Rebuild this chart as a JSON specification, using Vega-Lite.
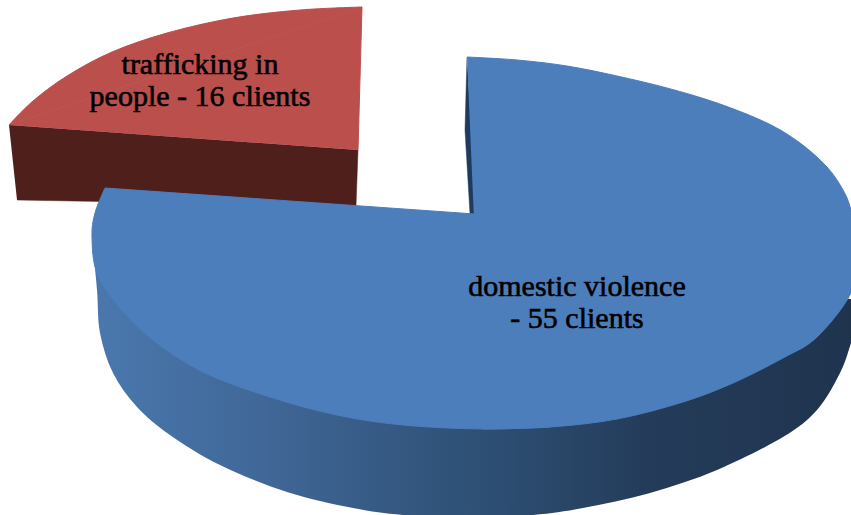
{"$schema":"https://vega.github.io/schema/vega-lite/v6.json","width":851,"height":515,"padding":0,"autosize":{"type":"fit","contains":"padding"},"background":"white","view":{"stroke":null},
"datasets":{
"outline":[
{"part":"redWall","i":1,"x":9,"y":125},{"part":"redWall","i":2,"x":358,"y":150},{"part":"redWall","i":3,"x":356,"y":206},{"part":"redWall","i":4,"x":17,"y":200},
{"part":"redArc","i":1,"x":9,"y":125},{"part":"redArc","i":2,"x":33,"y":101},{"part":"redArc","i":3,"x":67,"y":76},{"part":"redArc","i":4,"x":112,"y":52},{"part":"redArc","i":5,"x":167,"y":33},{"part":"redArc","i":6,"x":233,"y":18},{"part":"redArc","i":7,"x":300,"y":10},{"part":"redArc","i":8,"x":362,"y":7},
{"part":"redFace","i":1,"x":9,"y":125},{"part":"redFace","i":2,"x":362,"y":7},{"part":"redFace","i":3,"x":358,"y":150},
{"part":"blueWall","i":1,"x":92,"y":237},{"part":"blueWall","i":2,"x":97,"y":290},{"part":"blueWall","i":3,"x":100,"y":333},{"part":"blueWall","i":4,"x":113,"y":373},{"part":"blueWall","i":5,"x":137,"y":407},{"part":"blueWall","i":6,"x":170,"y":435},{"part":"blueWall","i":7,"x":220,"y":465},{"part":"blueWall","i":8,"x":287,"y":492},{"part":"blueWall","i":9,"x":353,"y":508},{"part":"blueWall","i":10,"x":403,"y":515},{"part":"blueWall","i":11,"x":468,"y":519},{"part":"blueWall","i":12,"x":533,"y":515},{"part":"blueWall","i":13,"x":583,"y":508},{"part":"blueWall","i":14,"x":650,"y":493},{"part":"blueWall","i":15,"x":717,"y":470},{"part":"blueWall","i":16,"x":783,"y":437},{"part":"blueWall","i":17,"x":817,"y":410},{"part":"blueWall","i":18,"x":840,"y":373},{"part":"blueWall","i":19,"x":851,"y":343},{"part":"blueWall","i":20,"x":864,"y":300},
{"part":"sliver","i":1,"x":467,"y":57},{"part":"sliver","i":2,"x":465,"y":130},{"part":"sliver","i":3,"x":470,"y":214},{"part":"sliver","i":4,"x":476,"y":214},
{"part":"blueRight","i":1,"x":467,"y":57},{"part":"blueRight","i":2,"x":517,"y":60},{"part":"blueRight","i":3,"x":567,"y":66},{"part":"blueRight","i":4,"x":617,"y":76},{"part":"blueRight","i":5,"x":667,"y":88},{"part":"blueRight","i":6,"x":717,"y":103},{"part":"blueRight","i":7,"x":767,"y":123},{"part":"blueRight","i":8,"x":800,"y":143},{"part":"blueRight","i":9,"x":827,"y":167},{"part":"blueRight","i":10,"x":843,"y":190},{"part":"blueRight","i":11,"x":851,"y":210},{"part":"blueRight","i":12,"x":860,"y":250},{"part":"blueRight","i":13,"x":851,"y":293},{"part":"blueRight","i":14,"x":817,"y":337},{"part":"blueRight","i":15,"x":783,"y":358},{"part":"blueRight","i":16,"x":733,"y":383},{"part":"blueRight","i":17,"x":683,"y":402},{"part":"blueRight","i":18,"x":617,"y":419},{"part":"blueRight","i":19,"x":550,"y":427},{"part":"blueRight","i":20,"x":483,"y":429},
{"part":"blueLeft","i":0,"x":550,"y":427},{"part":"blueLeft","i":1,"x":483,"y":429},{"part":"blueLeft","i":2,"x":403,"y":425},{"part":"blueLeft","i":3,"x":337,"y":415},{"part":"blueLeft","i":4,"x":270,"y":397},{"part":"blueLeft","i":5,"x":203,"y":372},{"part":"blueLeft","i":6,"x":153,"y":340},{"part":"blueLeft","i":7,"x":120,"y":308},{"part":"blueLeft","i":8,"x":97,"y":273},{"part":"blueLeft","i":9,"x":92,"y":237},{"part":"blueLeft","i":10,"x":95,"y":213},{"part":"blueLeft","i":11,"x":105,"y":188},
{"part":"blueFace","i":1,"x":105,"y":188},{"part":"blueFace","i":2,"x":475,"y":214},{"part":"blueFace","i":3,"x":490,"y":300},{"part":"blueFace","i":4,"x":483,"y":420},{"part":"blueFace","i":5,"x":300,"y":385},{"part":"blueFace","i":6,"x":150,"y":300}
],
"labels":[
{"category":"trafficking in people","clients":16,"line":"trafficking in","x":200,"y":74},
{"category":"trafficking in people","clients":16,"line":"people - 16 clients","x":200,"y":106},
{"category":"domestic violence","clients":55,"line":"domestic violence","x":577,"y":296},
{"category":"domestic violence","clients":55,"line":"- 55 clients","x":577,"y":328}
]},
"data":{"name":"outline"},
"encoding":{
"x":{"field":"x","type":"quantitative","scale":{"domain":[0,851]},"axis":null},
"y":{"field":"y","type":"quantitative","scale":{"domain":[515,0]},"axis":null},
"order":{"field":"i","type":"quantitative"}
},
"layer":[
{"transform":[{"filter":"datum.part==='redWall'"}],"mark":{"type":"line","clip":true,"fill":"#4f1f1c","stroke":"#4f1f1c","strokeWidth":0.5}},
{"transform":[{"filter":"datum.part==='redFace'"}],"mark":{"type":"line","clip":true,"fill":"#bb4f4c","stroke":"#bb4f4c","strokeWidth":1}},
{"transform":[{"filter":"datum.part==='redArc'"}],"mark":{"type":"line","clip":true,"interpolate":"cardinal","tension":0,"fill":"#bb4f4c","stroke":"#bb4f4c","strokeWidth":1}},
{"transform":[{"filter":"datum.part==='blueWall'"}],"mark":{"type":"line","clip":true,"interpolate":"cardinal","tension":0,"strokeWidth":0,"fill":{"gradient":"linear","x1":0,"x2":1,"y1":0,"y2":0,"stops":[{"offset":0,"color":"#4a78ae"},{"offset":0.2,"color":"#41699a"},{"offset":0.5,"color":"#2e5075"},{"offset":0.72,"color":"#243c5a"},{"offset":1,"color":"#1f334d"}]}}},
{"transform":[{"filter":"datum.part==='sliver'"}],"mark":{"type":"line","clip":true,"fill":"#1c3b5e","stroke":"#1c3b5e","strokeWidth":0.5}},
{"transform":[{"filter":"datum.part==='blueRight'"}],"mark":{"type":"line","clip":true,"interpolate":"cardinal","tension":0,"fill":"#4c7ebb","stroke":"#4c7ebb","strokeWidth":1}},
{"transform":[{"filter":"datum.part==='blueLeft'"}],"mark":{"type":"line","clip":true,"interpolate":"cardinal","tension":0,"fill":"#4c7ebb","stroke":"#4c7ebb","strokeWidth":1}},
{"transform":[{"filter":"datum.part==='blueFace'"}],"mark":{"type":"line","clip":true,"fill":"#4c7ebb","stroke":"#4c7ebb","strokeWidth":1}},
{"data":{"name":"labels"},"mark":{"type":"text","font":"Liberation Serif","fontSize":30,"color":"#000000","align":"center","baseline":"alphabetic","stroke":"#000000","strokeWidth":0.6},"encoding":{"text":{"field":"line","type":"nominal"},"order":{"value":null}}}
]}
